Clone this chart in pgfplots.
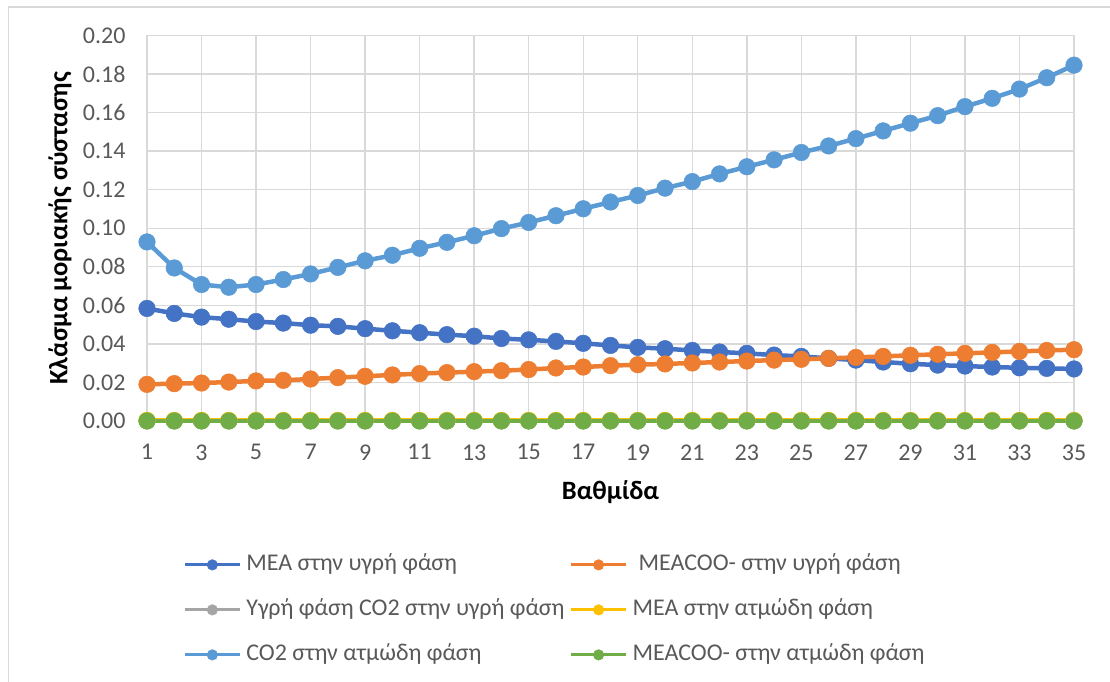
\documentclass[border=0pt]{standalone}
\usepackage{fontspec}
\setmainfont{Carlito}
\usepackage{pgfplots}
\usepackage{pgfplotstable}
\pgfplotsset{compat=1.18}

\definecolor{meaL}{HTML}{4472C4}
\definecolor{meacooL}{HTML}{ED7D31}
\definecolor{co2L}{HTML}{A5A5A5}
\definecolor{meaV}{HTML}{FFC000}
\definecolor{co2V}{HTML}{5B9BD5}
\definecolor{meacooV}{HTML}{70AD47}
\definecolor{gridgray}{HTML}{D9D9D9}
\definecolor{txtgray}{HTML}{595959}

% stage, mole fractions
\pgfplotstableread{
st  meaL    meacooL co2L    meaV    co2V    meacooV
1   0.0584  0.0190  0.0001  0.0003  0.0929  0.0
2   0.0558  0.0194  0.0001  0.0003  0.0794  0.0
3   0.0539  0.0197  0.0001  0.0003  0.0708  0.0
4   0.0528  0.0202  0.0001  0.0003  0.0694  0.0
5   0.0516  0.0208  0.0001  0.0003  0.0708  0.0
6   0.0508  0.0211  0.0001  0.0003  0.0734  0.0
7   0.0497  0.0218  0.0001  0.0003  0.0763  0.0
8   0.0491  0.0225  0.0001  0.0003  0.0797  0.0
9   0.0479  0.0232  0.0001  0.0003  0.0831  0.0
10  0.0468  0.0239  0.0001  0.0003  0.0860  0.0
11  0.0458  0.0246  0.0001  0.0003  0.0896  0.0
12  0.0448  0.0251  0.0001  0.0003  0.0927  0.0
13  0.0440  0.0256  0.0001  0.0003  0.0961  0.0
14  0.0428  0.0261  0.0001  0.0003  0.0998  0.0
15  0.0421  0.0267  0.0001  0.0003  0.1030  0.0
16  0.0413  0.0275  0.0001  0.0003  0.1065  0.0
17  0.0403  0.0280  0.0001  0.0003  0.1101  0.0
18  0.0392  0.0287  0.0001  0.0003  0.1136  0.0
19  0.0382  0.0292  0.0001  0.0003  0.1170  0.0
20  0.0375  0.0296  0.0001  0.0003  0.1208  0.0
21  0.0366  0.0301  0.0001  0.0003  0.1242  0.0
22  0.0358  0.0306  0.0001  0.0003  0.1282  0.0
23  0.0351  0.0311  0.0001  0.0003  0.1319  0.0
24  0.0342  0.0316  0.0001  0.0003  0.1355  0.0
25  0.0335  0.0320  0.0001  0.0003  0.1393  0.0
26  0.0325  0.0325  0.0001  0.0003  0.1427  0.0
27  0.0316  0.0330  0.0001  0.0003  0.1465  0.0
28  0.0306  0.0335  0.0001  0.0003  0.1505  0.0
29  0.0297  0.0341  0.0001  0.0003  0.1545  0.0
30  0.0290  0.0346  0.0001  0.0003  0.1584  0.0
31  0.0285  0.0351  0.0001  0.0003  0.1631  0.0
32  0.0280  0.0356  0.0001  0.0003  0.1674  0.0
33  0.0276  0.0361  0.0001  0.0003  0.1722  0.0
34  0.0273  0.0366  0.0001  0.0003  0.1781  0.0
35  0.0270  0.0370  0.0001  0.0003  0.1846  0.0
}\stages

\pgfplotsset{
  stageline/.style={
    color=#1, line width=4.5pt, mark=*, mark size=8.3pt,
    mark options={solid, fill=#1, draw=#1, line width=0.5pt}
  }
}

\begin{document}
\begin{tikzpicture}
\useasboundingbox (0,0) rectangle (1110pt,682pt);
% chart frame
\draw[gridgray, line width=1.5pt] (8.5pt,0pt) -- (8.5pt,675pt) -- (1112pt,675pt);
\begin{axis}[
  at={(147pt,261pt)}, anchor=south west,
  width=927pt, height=385.5pt, scale only axis,
  xmin=1, xmax=35, ymin=0, ymax=0.2,
  xtick={1,3,...,35},
  ytick={0,0.02,...,0.2},
  grid=major,
  major grid style={gridgray, line width=1.4pt},
  axis line style={draw=none},
  axis x line*=bottom,
  x axis line style={draw=gridgray, line width=1.4pt},
  tick style={draw=none},
  clip=false,
  /pgf/number format/assume math mode=true,
  yticklabel style={/pgf/number format/fixed, /pgf/number format/fixed zerofill,
    /pgf/number format/precision=2, xshift=-18pt},
  ticklabel style={font=\fontsize{24}{24}\selectfont, text=txtgray},
  xticklabel style={yshift=-20pt},
  xlabel={\textbf{Βαθμίδα}},
  ylabel={\textbf{Κλάσμα μοριακής σύστασης}},
  label style={font=\fontsize{26.5}{26.5}\selectfont, text=black},
  xlabel style={at={(axis description cs:0.5,-0.184)}, anchor=center},
  ylabel style={at={(axis description cs:-0.0939,0.5)}, anchor=center},
  legend columns=2,
  legend cell align=left,
  legend style={
    at={(axis description cs:0.039,-0.49)}, anchor=west,
    draw=none, fill=none, inner sep=0pt,
    font=\fontsize{24}{24}\selectfont, text=txtgray,
    nodes={inner sep=0pt, text height=17pt, text depth=6pt},
    row sep=22pt,
    /tikz/every odd column/.style={column sep=5pt},
    /tikz/every even column/.style={column sep=5pt},
  },
  legend image code/.code={%
    \draw[mark repeat=2, mark phase=2, #1, line width=3pt, mark size=5.3pt]
      plot coordinates {(0pt,0pt) (27.5pt,0pt) (55pt,0pt)};%
  },
]
\addplot[stageline=meaL]    table[x=st, y=meaL]    {\stages};
\addlegendentry{MEA στην υγρή φάση}
\addplot[stageline=meacooL] table[x=st, y=meacooL] {\stages};
\addlegendentry{\hspace*{6pt}MEACOO- στην υγρή φάση}
\addplot[stageline=co2L]    table[x=st, y=co2L]    {\stages};
\addlegendentry{Υγρή φάση CO2 στην υγρή φάση}
\addplot[stageline=meaV]    table[x=st, y=meaV]    {\stages};
\addlegendentry{MEA στην ατμώδη φάση}
\addplot[stageline=co2V]    table[x=st, y=co2V]    {\stages};
\addlegendentry{CO2 στην ατμώδη φάση}
\addplot[stageline=meacooV] table[x=st, y=meacooV] {\stages};
\addlegendentry{MEACOO- στην ατμώδη φάση}
\end{axis}
\end{tikzpicture}
\end{document}
